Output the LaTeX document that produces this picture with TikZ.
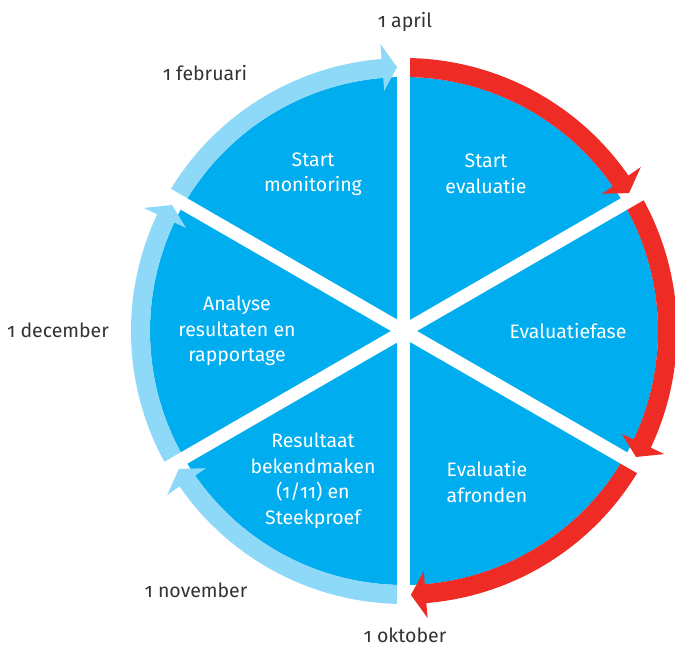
\documentclass[tikz,border=0pt]{standalone}
\usepackage{fontspec}
\setmainfont{Fira Sans}[Numbers=OldStyle]
\definecolor{diskblue}{HTML}{00AEEF}
\definecolor{lightring}{HTML}{8ED8F8}
\definecolor{redring}{HTML}{EE2B24}
\definecolor{labelgray}{HTML}{333333}
\newcommand\ringarrow[3]{%
  \fill[#1] (#2:254pt) arc[start angle=#2, end angle={#3+4.7}, radius=254pt]
    -- ({#3+4.7}:241pt) -- ({#3+1.5}:264pt) -- ({#3+4.7}:288pt)
    -- ({#3+4.7}:273pt) arc[start angle={#3+4.7}, end angle=#2, radius=273pt] -- cycle;}
\begin{document}
\begin{tikzpicture}[
  inner/.style={text=white, font=\fontsize{19.5}{25.5}\selectfont, align=center, inner sep=0pt},
  outer/.style={text=labelgray, font=\fontsize{19.5}{25.5}\selectfont, inner sep=0pt},
  divider/.style={draw=white, line width=13pt, line cap=butt}]
\useasboundingbox (-404pt,-317pt) rectangle (271pt,331pt);
\node[circle, fill=diskblue, minimum size=508pt, inner sep=0pt] (disk) at (0pt,0pt) {};
\ringarrow{redring}{90}{30}
\ringarrow{redring}{30}{-30}
\ringarrow{redring}{-30}{-90}
\ringarrow{lightring}{270}{210}
\ringarrow{lightring}{210}{150}
\ringarrow{lightring}{150}{90}
\coordinate (a1) at (90:300pt); \coordinate (a2) at (270:300pt);
\coordinate (b1) at (30:300pt); \coordinate (b2) at (210:300pt);
\coordinate (c1) at (-30:300pt); \coordinate (c2) at (150:300pt);
\draw[divider] (a1) -- (a2);
\draw[divider] (b1) -- (b2);
\draw[divider] (c1) -- (c2);
\node[inner] (mon) at (-91pt,157pt) {Start\\monitoring};
\node[inner] (evs) at (82pt,157pt) {Start\\evaluatie};
\node[inner] (evf) at (164pt,0pt) {Evaluatiefase};
\node[inner] (eva) at (83pt,-151pt) {Evaluatie\\afronden};
\node[inner] (res) at (-91pt,-150pt) {Resultaat\\bekendmaken\\(1/11) en\\Steekproef};
\node[inner] (ana) at (-167pt,0pt) {Analyse\\resultaten en\\rapportage};
\node[outer] (apr) at (1pt,309pt) {1 april};
\node[outer] (feb) at (-199pt,258pt) {1 februari};
\node[outer] (dec) at (-346pt,1pt) {1 december};
\node[outer] (nov) at (-208pt,-259pt) {1 november};
\node[outer] (okt) at (1pt,-304.5pt) {1 oktober};
\end{tikzpicture}
\end{document}
